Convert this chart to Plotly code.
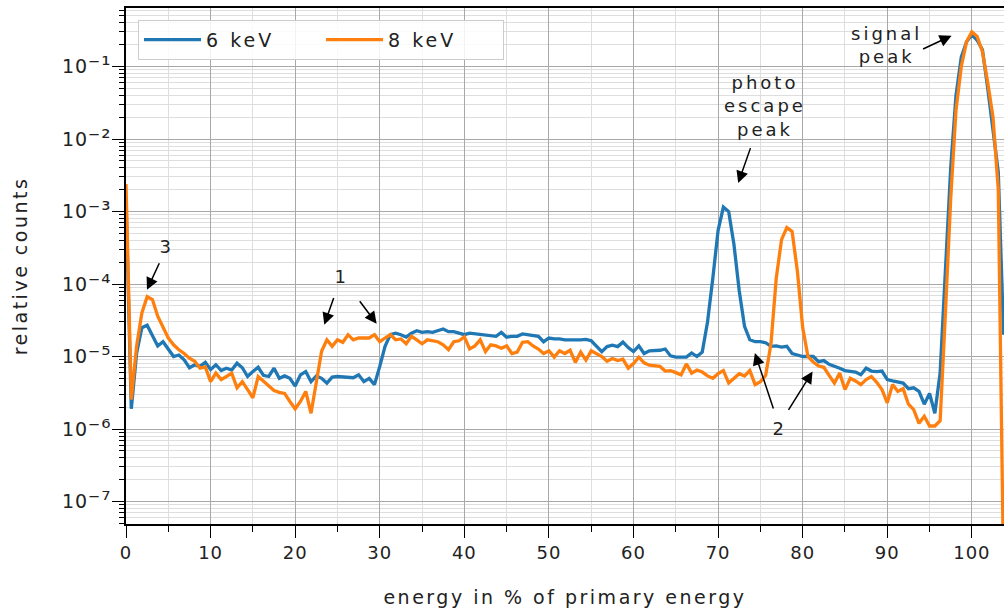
import plotly.graph_objects as go

# energy bins in % of the primary energy (bin width 0.625 %)
energy = [round(0.625 * i, 3) for i in range(167)]

counts_6kev = [
    1.5e-3, 1.9e-6, 1.1e-5, 2.5e-5, 2.7e-5, 1.9e-5, 1.4e-5, 1.6e-5, 1.25e-5, 1.0e-5,
    1.05e-5, 9.0e-6, 7.0e-6, 7.7e-6, 7.3e-6, 8.3e-6, 6.6e-6, 7.7e-6, 6.4e-6, 6.9e-6,
    6.5e-6, 8.1e-6, 7.0e-6, 5.3e-6, 6.2e-6, 7.1e-6, 5.5e-6, 5.3e-6, 6.9e-6, 5.0e-6,
    5.4e-6, 5.0e-6, 3.9e-6, 5.6e-6, 6.2e-6, 4.5e-6, 5.4e-6, 5.0e-6, 4.3e-6, 5.2e-6,
    5.3e-6, 5.2e-6, 5.2e-6, 5.1e-6, 5.6e-6, 4.5e-6, 5.0e-6, 4.1e-6, 7.3e-6, 1.38e-5,
    2.0e-5, 2.1e-5, 2.0e-5, 1.85e-5, 2.1e-5, 2.27e-5, 2.15e-5, 2.2e-5, 2.15e-5, 2.27e-5,
    2.4e-5, 2.2e-5, 2.2e-5, 2.1e-5, 2.0e-5, 2.1e-5, 2.05e-5, 2.0e-5, 1.97e-5, 1.95e-5,
    1.9e-5, 2.15e-5, 1.85e-5, 1.9e-5, 1.9e-5, 2.05e-5, 2.0e-5, 1.95e-5, 1.9e-5, 1.6e-5,
    1.8e-5, 1.75e-5, 1.75e-5, 1.7e-5, 1.72e-5, 1.7e-5, 1.7e-5, 1.72e-5, 1.65e-5, 1.4e-5,
    1.17e-5, 1.37e-5, 1.43e-5, 1.37e-5, 1.58e-5, 1.33e-5, 1.17e-5, 1.4e-5, 1.1e-5, 1.2e-5,
    1.2e-5, 1.22e-5, 1.27e-5, 1.02e-5, 9.8e-6, 9.7e-6, 9.8e-6, 1.12e-5, 1.0e-5, 1.15e-5,
    3.0e-5, 1.2e-4, 5.5e-4, 1.15e-3, 1.0e-3, 3.5e-4, 8.0e-5, 2.6e-5, 1.7e-5, 1.6e-5,
    1.6e-5, 1.55e-5, 1.38e-5, 1.4e-5, 1.35e-5, 1.38e-5, 1.1e-5, 1.05e-5, 1.0e-5, 1.0e-5,
    1.0e-5, 8.5e-6, 8.8e-6, 7.8e-6, 7.4e-6, 6.9e-6, 6.4e-6, 6.3e-6, 6.1e-6, 5.6e-6,
    6.9e-6, 6.3e-6, 6.2e-6, 6.3e-6, 4.8e-6, 4.6e-6, 4.5e-6, 4.3e-6, 3.6e-6, 3.7e-6,
    3.3e-6, 2.2e-6, 3.1e-6, 1.65e-6, 6.0e-6, 2.0e-4, 4.0e-3, 4.0e-2, 1.35e-1, 2.2e-1,
    2.75e-1, 2.3e-1, 1.7e-1, 5.0e-2, 1.4e-2, 3.5e-3, 2.0e-5,
]

counts_8kev = [
    2.4e-3, 2.55e-6, 1.38e-5, 4.0e-5, 6.7e-5, 6.1e-5, 3.6e-5, 2.6e-5, 1.8e-5, 1.45e-5,
    1.24e-5, 1.1e-5, 9.5e-6, 8.6e-6, 6.9e-6, 7.2e-6, 4.5e-6, 5.9e-6, 4.8e-6, 5.3e-6,
    5.9e-6, 3.7e-6, 4.5e-6, 3.5e-6, 2.7e-6, 5.3e-6, 4.6e-6, 4.0e-6, 3.4e-6, 3.2e-6,
    3.1e-6, 2.4e-6, 1.9e-6, 2.4e-6, 3.3e-6, 1.65e-6, 4.3e-6, 1.18e-5, 1.7e-5, 1.38e-5,
    1.7e-5, 1.57e-5, 2.0e-5, 1.7e-5, 1.8e-5, 1.78e-5, 1.8e-5, 2.0e-5, 1.6e-5, 1.8e-5,
    2.0e-5, 1.7e-5, 1.75e-5, 1.5e-5, 1.9e-5, 1.7e-5, 1.5e-5, 1.7e-5, 1.65e-5, 1.6e-5,
    1.45e-5, 1.24e-5, 1.6e-5, 1.65e-5, 1.87e-5, 1.27e-5, 1.4e-5, 1.7e-5, 1.17e-5, 1.45e-5,
    1.4e-5, 1.3e-5, 1.4e-5, 1.1e-5, 1.15e-5, 1.57e-5, 1.6e-5, 1.4e-5, 1.27e-5, 1.1e-5,
    1.2e-5, 9.8e-6, 1.2e-5, 1.1e-5, 1.22e-5, 8.3e-6, 1.15e-5, 8.9e-6, 1.2e-5, 1.1e-5,
    1.0e-5, 8.6e-6, 9.4e-6, 8.8e-6, 9.2e-6, 6.9e-6, 8.0e-6, 9.8e-6, 8.2e-6, 7.6e-6,
    7.4e-6, 7.3e-6, 6.3e-6, 6.4e-6, 6.0e-6, 5.6e-6, 7.9e-6, 5.9e-6, 6.5e-6, 6.1e-6,
    5.4e-6, 5.0e-6, 5.8e-6, 6.4e-6, 4.3e-6, 5.0e-6, 5.8e-6, 5.4e-6, 6.4e-6, 4.1e-6,
    4.5e-6, 5.5e-6, 1.5e-5, 1.2e-4, 4.1e-4, 6.0e-4, 5.3e-4, 1.5e-4, 2.5e-5, 1.0e-5,
    8.4e-6, 7.4e-6, 7.1e-6, 5.5e-6, 4.3e-6, 5.9e-6, 3.5e-6, 5.0e-6, 4.6e-6, 4.1e-6,
    4.8e-6, 5.3e-6, 4.4e-6, 3.5e-6, 2.3e-6, 4.1e-6, 3.3e-6, 3.6e-6, 2.2e-6, 1.85e-6,
    1.2e-6, 1.5e-6, 1.1e-6, 1.1e-6, 1.3e-6, 4.0e-5, 1.5e-3, 2.5e-2, 1.0e-1, 2.2e-1,
    3.0e-1, 2.6e-1, 1.6e-1, 6.0e-2, 2.0e-2, 2.0e-3, 1.0e-8,
]

series_names = ["6 keV", "8 keV"]
series_colors = ["#1f77b4", "#ff7f0e"]

x_ticks = list(range(0, 101, 10))
y_exponents = [-7, -6, -5, -4, -3, -2, -1]

SUPERSCRIPT = str.maketrans("-0123456789", "⁻⁰¹²³⁴⁵⁶⁷⁸⁹")


def power_label(exponent):
    """Decade label such as 10⁻³, with an enlarged exponent."""
    sup = str(exponent).translate(SUPERSCRIPT)
    return f"10<span style='font-size:23px'>{sup}</span>"


FONT = "DejaVu Sans"
TEXT_COLOR = "#222"

fig = go.Figure()
for name, color, counts in zip(series_names, series_colors,
                               [counts_6kev, counts_8kev]):
    fig.add_trace(go.Scatter(
        x=energy, y=counts, mode="lines", name=name,
        line=dict(color=color, width=3.3),
    ))

major_grid = "#a8a8a8"
minor_grid = "#dedede"

fig.update_xaxes(
    range=[0, 103.8],
    tickmode="array", tickvals=x_ticks, ticktext=[str(v) for v in x_ticks],
    ticks="outside", ticklen=12, tickwidth=1, tickcolor="black",
    showgrid=True, gridcolor=major_grid, gridwidth=1,
    minor=dict(dtick=5, ticks="outside", ticklen=6, tickcolor="black",
               showgrid=True, gridcolor=minor_grid, gridwidth=1),
    showline=True, linecolor="black", linewidth=1.5, mirror=True,
    zeroline=False,
    tickfont=dict(family=FONT, size=18, color=TEXT_COLOR),
    title=dict(text="energy in % of primary energy",
               font=dict(family=FONT, size=19, color=TEXT_COLOR), standoff=28),
)

fig.update_yaxes(
    type="log", range=[-7.31, -0.193],
    tickmode="array", tickvals=[10.0 ** e for e in y_exponents],
    ticktext=[power_label(e) for e in y_exponents],
    ticks="outside", ticklen=12, tickwidth=1, tickcolor="black",
    ticklabelstandoff=-3,
    showgrid=True, gridcolor=major_grid, gridwidth=1,
    minor=dict(dtick="D1", ticks="outside", ticklen=5, tickcolor="black",
               showgrid=True, gridcolor=minor_grid, gridwidth=1),
    showline=True, linecolor="black", linewidth=1.5,
    zeroline=False,
    tickfont=dict(family=FONT, size=19, color=TEXT_COLOR),
    title=dict(text="relative counts",
               font=dict(family=FONT, size=19, color=TEXT_COLOR), standoff=33),
)

annot_font = dict(family=FONT, size=18, color=TEXT_COLOR)
arrow_kw = dict(showarrow=True, arrowhead=2, arrowsize=1.6, arrowwidth=1.5,
                arrowcolor="black", standoff=0, axref="pixel", ayref="pixel")
# labels sit at the arrow tail (pixel offset from the tip, y tip in log10)
annotations = [
    dict(x=2.48, y=-4.079, ax=20, ay=-43, text="3", startstandoff=5,
         font=annot_font, **arrow_kw),
    dict(x=23.44, y=-4.561, ax=17, ay=-48, text="1", startstandoff=10,
         font=annot_font, **arrow_kw),
    dict(x=29.63, y=-4.548, ax=-18, ay=-24, text="", **arrow_kw),
    dict(x=74.35, y=-4.952, ax=25, ay=75, text="2", startstandoff=8,
         font=annot_font, **arrow_kw),
    dict(x=81.17, y=-5.205, ax=-25, ay=40, text="", **arrow_kw),
    dict(x=72.38, y=-2.607, ax=27, ay=-77, text="photo<br>escape<br>peak",
         startstandoff=7, font=annot_font, **arrow_kw),
    dict(x=89.9, y=-0.70, text="signal<br>peak", showarrow=False,
         font=annot_font),
    dict(x=97.6, y=-0.575, ax=-30, ay=14, text="", **arrow_kw),
]
for a in annotations:
    a.setdefault("xref", "x")
    a.setdefault("yref", "y")
fig.update_layout(annotations=annotations)

fig.update_layout(
    width=1004, height=609,
    margin=dict(l=126, r=0, t=8, b=85),
    paper_bgcolor="white", plot_bgcolor="white",
    showlegend=True,
    legend=dict(
        orientation="h", x=0.0137, y=0.977, xanchor="left", yanchor="top",
        bgcolor="rgba(255,255,255,0.85)", bordercolor="#cccccc", borderwidth=1,
        font=dict(family=FONT, size=19, color=TEXT_COLOR),
        entrywidth=110, entrywidthmode="pixels", itemwidth=57,
    ),
)

# wider tracking for the text, as in the typeset figure
tracking_css = (
    ".xtick text {letter-spacing: 1px;} "
    ".ytick text {letter-spacing: 1px;} "
    ".xtitle, .ytitle {letter-spacing: 2.5px;} "
    ".legendtext, .annotation-text {letter-spacing: 3px;}"
)
post_js = (
    "var st = document.createElement('style');"
    f"st.textContent = '{tracking_css}';"
    "document.head.appendChild(st);"
)

fig.write_html("out.html", post_script=post_js)
